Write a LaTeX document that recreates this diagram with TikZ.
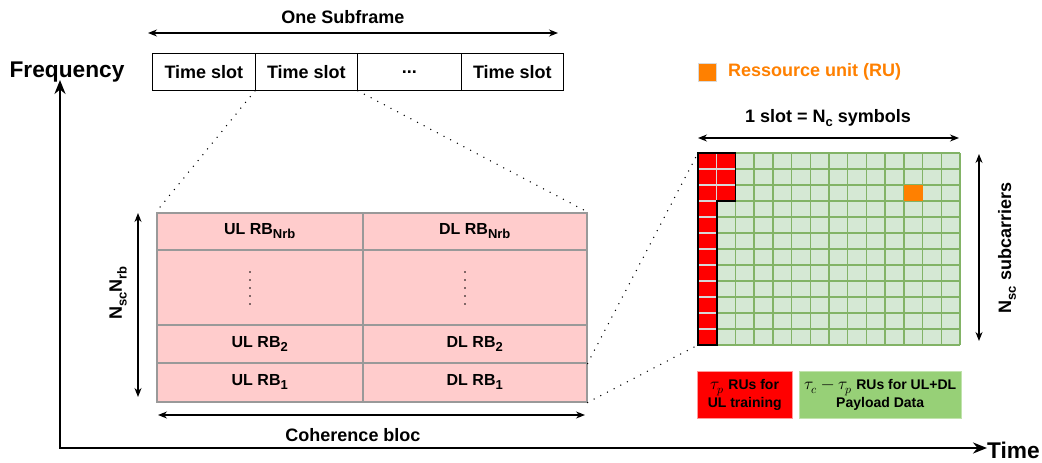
\documentclass[tikz,border=0pt]{standalone}
\usepackage{fontspec}
\usepackage{unicode-math}
\setmainfont{Liberation Sans}
\setmathfont{Latin Modern Math}
\usetikzlibrary{arrows.meta}
\definecolor{pinkfill}{HTML}{FFCCCC}
\definecolor{pinkline}{HTML}{999999}
\definecolor{gridfill}{HTML}{D5E8D4}
\definecolor{gridline}{HTML}{82B366}
\definecolor{ruorange}{HTML}{FF8000}
\definecolor{legendgreen}{HTML}{97D077}
\definecolor{redinner}{HTML}{D8D8D8}
\newcommand{\lsub}[1]{\raisebox{-0.5ex}{\fontsize{13}{13}\selectfont #1}}
\newcommand{\bigmath}[1]{{\fontsize{17}{17}\selectfont$#1$}}
\tikzset{
  lbl/.style={font=\fontsize{18}{21}\selectfont\bfseries, inner sep=0pt},
  biglbl/.style={font=\fontsize{22.7}{26}\selectfont\bfseries, inner sep=0pt},
  slotbox/.style={draw=black, line width=0.8pt, minimum height=37pt, inner sep=0pt,
    font=\fontsize{18}{21}\selectfont\bfseries, anchor=north west},
  rbcell/.style={draw=pinkline, fill=pinkfill, line width=1.5pt, inner sep=0pt,
    anchor=north west, font=\fontsize{16}{19}\selectfont\bfseries},
  dimarrow/.style={{Stealth[length=9pt,width=7pt]}-{Stealth[length=9pt,width=7pt]}, line width=1.2pt},
  axisarrow/.style={-{Stealth[length=14pt,width=11pt]}, line width=2pt},
  zoomline/.style={line width=1.5pt, dash pattern=on 0pt off 7.5pt, line cap=round},
  legendbox/.style={anchor=north west, inner sep=0pt, minimum height=47pt, align=center,
    font=\fontsize{14}{18}\selectfont\bfseries},
}
\begin{document}
\begin{tikzpicture}[x=1pt,y=-1pt]
\useasboundingbox (0,0) rectangle (1042,463);

% axes
\coordinate (origin) at (60,448);
\coordinate (ytip) at (60,80);
\coordinate (xtip) at (987,448);
\draw[axisarrow] (origin) -- (ytip);
\draw[axisarrow] ([xshift=-1pt]origin) -- (xtip);
\node[biglbl, anchor=base] (freq) at (67,77) {Frequency};
\node[biglbl, anchor=base west] (time) at (987,458) {Time};

% subframe
\coordinate (sfL) at (148,33);
\coordinate (sfR) at (558,33);
\draw[dimarrow] (sfL) -- (sfR);
\node[lbl] (sflbl) at (343,17) {One Subframe};
\node[slotbox, minimum width=103pt] (s1) at (152,53) {Time slot};
\node[slotbox, minimum width=102pt] (s2) at (255,53) {Time slot};
\node[slotbox, minimum width=104pt] (s3) at (357,53) {...};
\node[slotbox, minimum width=102pt] (s4) at (461,53) {Time slot};

% coherence block
\node[rbcell, minimum width=206pt, minimum height=37pt] (ul4) at (156,212) {UL RB\lsub{Nrb}};
\node[rbcell, minimum width=224pt, minimum height=37pt] (dl4) at (362,212) {DL RB\lsub{Nrb}};
\node[rbcell, minimum width=206pt, minimum height=75pt] (ulm) at (156,249) {};
\node[rbcell, minimum width=224pt, minimum height=75pt] (dlm) at (362,249) {};
\node[rbcell, minimum width=206pt, minimum height=38pt] (ul2) at (156,324) {UL RB\lsub{2}};
\node[rbcell, minimum width=224pt, minimum height=38pt] (dl2) at (362,324) {DL RB\lsub{2}};
\node[rbcell, minimum width=206pt, minimum height=39pt] (ul1) at (156,362) {UL RB\lsub{1}};
\node[rbcell, minimum width=224pt, minimum height=39pt] (dl1) at (362,362) {DL RB\lsub{1}};
\foreach \yy in {272,280,288,296,304} {
  \fill (250,\yy) circle (0.9pt);
  \fill (465,\yy) circle (0.9pt);
}
\coordinate (cbT) at (138,213);
\coordinate (cbB) at (138,397);
\draw[dimarrow] (cbT) -- (cbB);
\node[lbl, rotate=90] (nscnrb) at (118,293) {N\lsub{sc}N\lsub{rb}};
\coordinate (cbL) at (158,415);
\coordinate (cbR) at (585,415);
\draw[dimarrow] (cbL) -- (cbR);
\node[lbl] (cohlbl) at (353,435) {Coherence bloc};

% RU grid
\coordinate (gNW) at (698,153);
\coordinate (gSW) at (698,345);
\fill[gridfill] (698,153) rectangle (960,345);
\foreach \i in {0,...,14} \draw[gridline, line width=1.3pt] ({698+\i*18.714},153) -- ({698+\i*18.714},345);
\foreach \j in {0,...,12} \draw[gridline, line width=1.3pt] (698,{153+\j*16}) -- (960,{153+\j*16});
\fill[red] (698,153) rectangle (716.7,345);
\fill[red] (716.7,153) rectangle (735.4,201);
\foreach \j in {1,...,11} \draw[redinner, line width=1.2pt] (698,{153+\j*16}) -- (716.7,{153+\j*16});
\foreach \j in {1,2} \draw[redinner, line width=1.2pt] (716.7,{153+\j*16}) -- (735.4,{153+\j*16});
\draw[redinner, line width=1.2pt] (716.7,153) -- (716.7,201);
\draw[black, line width=1.6pt] (698,153) -- (735.4,153) -- (735.4,201) -- (716.7,201) -- (716.7,345) -- (698,345) -- cycle;
\fill[ruorange] (904,185) rectangle (922.6,201);

\coordinate (slL) at (698,138);
\coordinate (slR) at (959,138);
\draw[dimarrow] (slL) -- (slR);
\node[lbl] (slotlbl) at (828,118) {1 slot = N\lsub{c} symbols};
\coordinate (scT) at (979,154);
\coordinate (scB) at (979,341);
\draw[dimarrow] (scT) -- (scB);
\node[lbl, rotate=90] (sclbl) at (1007,248) {N\lsub{sc} subcarriers};

% RU legend
\node[fill=ruorange, draw=black!15, line width=0.8pt, minimum size=18pt, inner sep=0pt] (rusq) at (707.5,72) {};
\node[lbl, text=ruorange, anchor=west] (rulbl) at (728,72) {Ressource unit (RU)};

% bottom legend
\node[legendbox, fill=red, draw=red!40, minimum width=95pt] (lgred) at (697,371) {\bigmath{\tau_p} RUs for\\UL training};
\node[legendbox, fill=legendgreen, draw=legendgreen!60, minimum width=162pt] (lggreen) at (799,371) {\bigmath{\tau_c-\tau_p} RUs for UL+DL\\Payload Data};

% zoom lines
\draw[zoomline] (s2.south west) -- (ul4.north west);
\draw[zoomline] (s2.south east) -- (dl4.north east);
\draw[zoomline] (dl2.south east) -- (gNW);
\draw[zoomline] (dl1.south east) -- (gSW);
\end{tikzpicture}
\end{document}
